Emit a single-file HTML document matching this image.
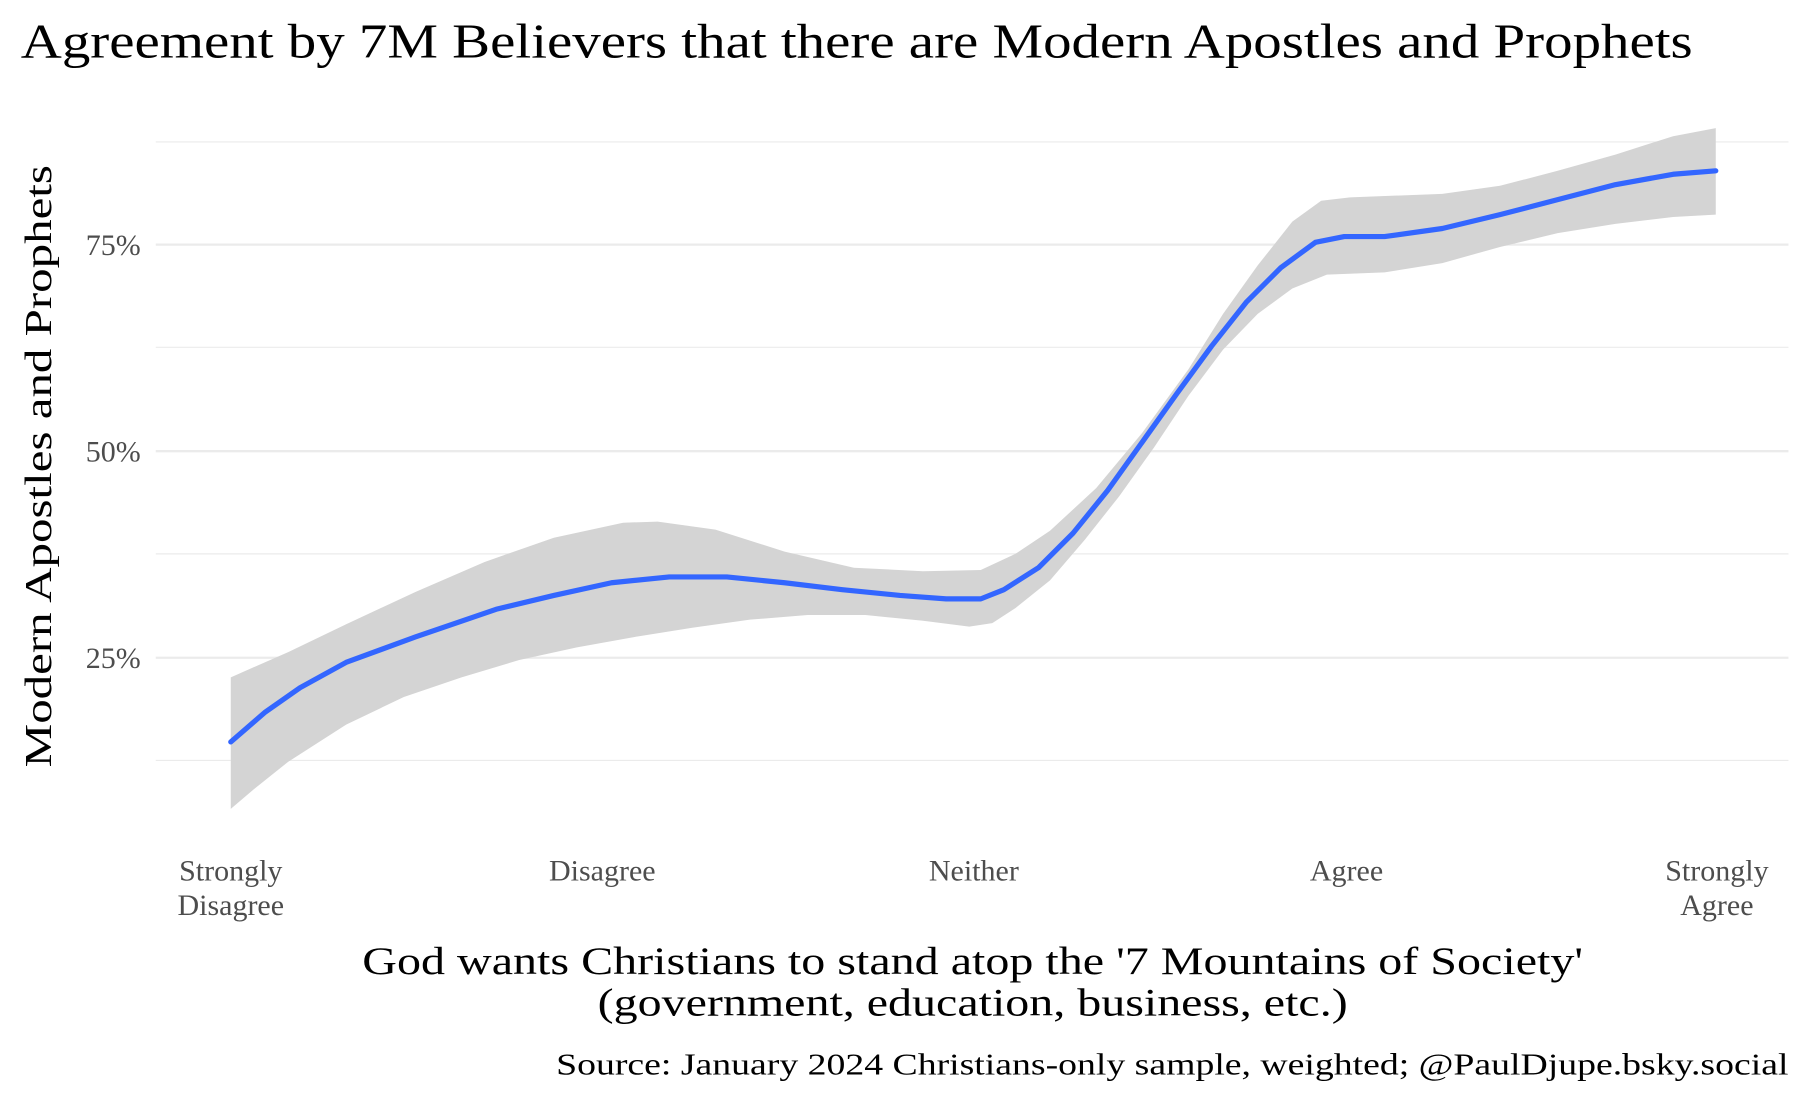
<!DOCTYPE html>
<html><head><meta charset="utf-8"><style>html,body{margin:0;padding:0;background:#fff}svg{display:block}</style></head>
<body>
<svg width="1800" height="1102" viewBox="0 0 1560 955" xmlns="http://www.w3.org/2000/svg" font-family="'Liberation Serif', serif">
<rect width="1560" height="955" fill="#fff"/>
<g stroke="#ebebeb">
<line x1="135" x2="1550" y1="123" y2="123" stroke-width="1"/>
<line x1="135" x2="1550" y1="301" y2="301" stroke-width="1"/>
<line x1="135" x2="1550" y1="480" y2="480" stroke-width="1"/>
<line x1="135" x2="1550" y1="659" y2="659" stroke-width="1"/>
<line x1="135" x2="1550" y1="212" y2="212" stroke-width="2"/>
<line x1="135" x2="1550" y1="391" y2="391" stroke-width="2"/>
<line x1="135" x2="1550" y1="570" y2="570" stroke-width="2"/>
</g>
<polygon fill="#d4d4d4" points="200,587 250,565 300,541 360,513 420,487 480,466 540,453 570,452 620,459 680,478 740,492 800,495 850,494 880,480 910,460 950,423 990,375 1030,320 1060,272 1090,230 1120,192 1145,174 1170,171 1250,168 1300,161 1350,148 1400,134 1450,118 1487,111 1487,186 1450,188 1400,194 1350,202 1300,214 1250,228 1200,236 1150,238 1120,250 1090,272 1060,303 1030,343 1000,388 970,430 940,468 910,503 880,527 860,540 840,543 800,538 750,533 700,533 650,537 600,544 550,552 500,561 450,572 400,587 350,604 300,628 250,660 220,684 200,701"/>
<polyline fill="none" stroke="#3366FF" stroke-width="4.5" stroke-linejoin="round" stroke-linecap="round" points="200,643 230,617 260,596 300,574 360,552 430,528 480,516 530,505 580,500 630,500 680,505 730,511 780,516 820,519 850,519 870,511 900,492 930,462 960,425 990,383 1020,341 1050,300 1080,262 1110,232 1140,210 1165,205 1200,205 1250,198 1300,186 1350,173 1400,160 1450,151 1487,148"/>
<text x="18" y="50" font-size="42" fill="#000" textLength="1449" lengthAdjust="spacingAndGlyphs">Agreement by 7M Believers that there are Modern Apostles and Prophets</text>
<g font-size="26" fill="#4d4d4d" text-anchor="end">
<text x="122" y="221">75%</text>
<text x="122" y="400">50%</text>
<text x="122" y="579">25%</text>
</g>
<text transform="translate(44,404) rotate(-90)" font-size="33" text-anchor="middle" fill="#000" textLength="522" lengthAdjust="spacingAndGlyphs">Modern Apostles and Prophets</text>
<g font-size="26" fill="#4d4d4d" text-anchor="middle">
<text x="200" y="763">Strongly</text><text x="200" y="793">Disagree</text>
<text x="522" y="763">Disagree</text>
<text x="844" y="763">Neither</text>
<text x="1167" y="763">Agree</text>
<text x="1488" y="763">Strongly</text><text x="1488" y="793">Agree</text>
</g>
<g font-size="34" fill="#000" text-anchor="middle">
<text x="843" y="844" textLength="1058" lengthAdjust="spacingAndGlyphs">God wants Christians to stand atop the '7 Mountains of Society'</text>
<text x="843" y="880" textLength="650" lengthAdjust="spacingAndGlyphs">(government, education, business, etc.)</text>
</g>
<text x="1550" y="931" font-size="27" text-anchor="end" fill="#000" textLength="1068" lengthAdjust="spacingAndGlyphs">Source: January 2024 Christians-only sample, weighted; @PaulDjupe.bsky.social</text>
</svg>
</body></html>
